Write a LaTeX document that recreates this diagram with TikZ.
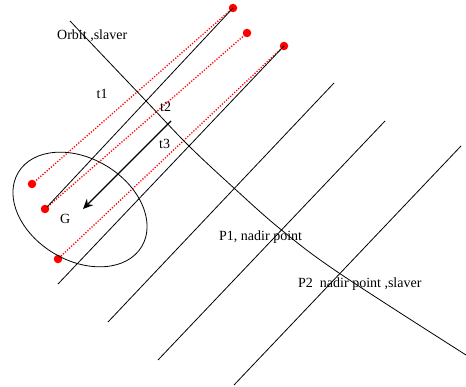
\documentclass[tikz,border=0pt]{standalone}
\usepackage{fontspec}
\setmainfont{Liberation Serif}
\usetikzlibrary{arrows.meta}
\begin{document}
\begin{tikzpicture}[x=1pt,y=-1pt,
  thinline/.style={draw=black,line width=0.8pt},
  reddot/.style={line width=1.3pt,draw=red,dash pattern=on 1.2pt off 1.6pt},
  dotnode/.style={circle,fill=red,inner sep=0pt,minimum size=8.5pt},
  lbl/.style={anchor=base west,inner sep=0pt,font=\fontsize{14}{16}\selectfont}]
\useasboundingbox (0,0) rectangle (466,387);
% red endpoint dots
\node[dotnode] (r1) at (233,8) {};
\node[dotnode] (r2) at (247,33) {};
\node[dotnode] (r3) at (284,46) {};
\node[dotnode] (l1) at (32,184) {};
\node[dotnode] (l2) at (45,209) {};
\node[dotnode] (l3) at (58,259) {};
% red dotted rays
\draw[reddot] (r1.center) -- (l1.center);
\draw[reddot] (r2.center) -- (l2.center);
\draw[reddot] (r3.center) -- (l3.center);
% black parallel lines
\coordinate (a2) at (47,207);
\coordinate (b2) at (58,284);
\coordinate (c1) at (334,83);
\coordinate (c2) at (108,322);
\coordinate (d1) at (385,121);
\coordinate (d2) at (158,360);
\coordinate (e1) at (461,146);
\coordinate (e2) at (234,385);
\draw[thinline] (r1.center) -- (a2);
\draw[thinline] (r3.center) -- (b2);
\draw[thinline] (c1) -- (c2);
\draw[thinline] (d1) -- (d2);
\draw[thinline] (e1) -- (e2);
% orbit curve
\coordinate (o1) at (70,21);
\coordinate (o2) at (466,355);
\draw[thinline] plot[smooth,tension=0.6] coordinates {(70,21) (146.7,101.7) (189,146) (235,189) (281.5,230) (339,273) (466,355)};
% ellipse G
\coordinate (gc) at (80,209.5);
\draw[thinline] [rotate around={-31:(gc)}] (gc) ellipse [x radius=72, y radius=51];
% arrow
\coordinate (ar1) at (171,121);
\coordinate (ar2) at (83,209);
\draw[line width=1.3pt,-{Stealth[length=10pt,width=9pt]}] (ar1) -- (ar2);
% labels
\node[lbl] (orbit) at (57,40) {Orbit ,slaver};
\node[lbl] (t1) at (96.5,98.5) {t1};
\node[lbl] (t2) at (160,111.5) {t2};
\node[lbl] (t3) at (159,148.5) {t3};
\node[lbl] (G) at (60,224) {G};
\node[lbl] (P1) at (219,240.5) {P1, nadir point};
\node[lbl] (P2) at (298,288) {P2\ \ nadir point ,slaver};
\end{tikzpicture}
\end{document}
